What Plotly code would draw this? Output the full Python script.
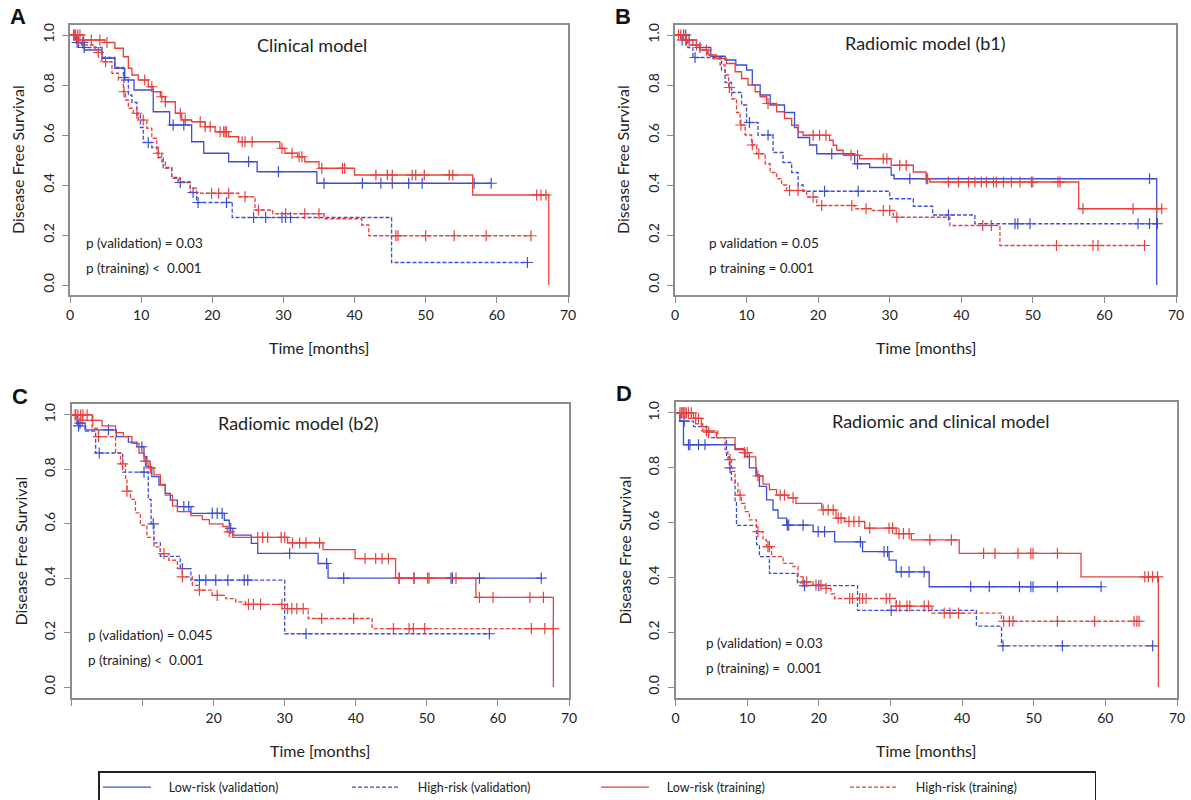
import numpy as np
import plotly.graph_objects as go

# ---------------- data ----------------
# Panel A : Clinical model
A_lowval_t = [0, 0.9, 2.0, 4.5, 6.3, 7.7, 9.0, 11.7, 14.0, 17.1, 18.8, 22.3, 26.3, 34.7]
A_lowval_s = [1.0, 0.97, 0.94, 0.907, 0.867, 0.82, 0.78, 0.693, 0.64, 0.573, 0.527, 0.493, 0.453, 0.407]
A_lowval_c = [1.2, 1.8, 14.5, 16.0, 25.1, 29.3, 35.7, 41.1, 43.7, 45.3, 47.6, 49.5, 56.8, 59.2]
A_highval_t = [0, 0.7, 1.6, 4.5, 6.3, 7.5, 8.2, 8.7, 9.4, 9.9, 10.3, 11.5, 12.4, 13.1, 14.3, 15.2, 16.9, 17.8, 22.8, 45.2]
A_highval_s = [1.0, 0.97, 0.95, 0.91, 0.87, 0.83, 0.76, 0.73, 0.68, 0.63, 0.57, 0.55, 0.51, 0.47, 0.43, 0.41, 0.37, 0.33, 0.27, 0.09]
A_highval_c = [1.0, 2.0, 7.6, 11.0, 15.5, 17.3, 18.0, 22.0, 25.8, 27.5, 29.8, 30.3, 31.0, 64.3]
A_lowtr_t = [0, 1.9, 4.9, 6.3, 7.5, 8.2, 8.7, 9.6, 11.0, 11.7, 12.7, 13.4, 14.8, 15.7, 17.1, 19.0, 20.4, 22.3,
             23.7, 29.5, 30.2, 32.0, 33.0, 35.0, 40.0, 56.6, 67.3]
A_lowtr_s = [1.0, 0.98, 0.97, 0.947, 0.913, 0.867, 0.84, 0.82, 0.793, 0.773, 0.753, 0.733, 0.687, 0.66, 0.653,
             0.633, 0.613, 0.593, 0.573, 0.547, 0.527, 0.513, 0.493, 0.467, 0.44, 0.36, 0.0]
A_lowtr_c = [0.5, 0.8, 1.1, 1.4, 1.9, 3.0, 4.2, 5.2, 10.5, 11.5, 12.9, 13.4, 15.5, 16.2, 18.3, 19.0, 19.7, 21.1,
             21.6, 21.8, 22.0, 24.2, 24.6, 25.6, 29.8, 31.2, 32.2, 32.6, 35.4, 38.3, 38.6, 43.0, 44.6, 45.3, 48.1,
             48.6, 49.8, 53.3, 53.8, 65.6, 66.2, 66.9]
A_hightr_t = [0, 0.8, 2.1, 3.5, 4.5, 5.9, 6.8, 7.5, 7.8, 8.2, 8.9, 9.6, 10.8, 11.5, 12.2, 12.9, 13.4, 14.3, 15.5,
              16.9, 17.8, 23.7, 26.0, 28.5, 35.7, 41.0, 42.0]
A_hightr_s = [1.0, 0.98, 0.96, 0.93, 0.893, 0.847, 0.82, 0.773, 0.74, 0.707, 0.687, 0.66, 0.627, 0.587, 0.527,
              0.493, 0.467, 0.427, 0.413, 0.387, 0.367, 0.353, 0.30, 0.285, 0.265, 0.24, 0.197]
A_hightr_c = [0.6, 1.2, 4.0, 5.0, 7.6, 9.4, 10.3, 12.4, 19.9, 20.9, 22.3, 24.6, 26.5, 30.3, 33.0, 35.0, 45.8, 46.1,
              50.0, 54.0, 58.5, 64.8]

# Panel B : Radiomic model (b1)
B_lowval_t = [0, 2.0, 3.0, 5.0, 7.0, 8.5, 10.0, 10.8, 11.9, 13.3, 15.3, 16.7, 17.2, 18.8, 19.8, 25.1, 27.2, 30.2, 30.6, 67.3]
B_lowval_s = [1.0, 0.98, 0.95, 0.915, 0.90, 0.88, 0.86, 0.80, 0.76, 0.72, 0.69, 0.63, 0.59, 0.56, 0.525, 0.485, 0.47, 0.44, 0.425, 0.0]
B_lowval_c = [1.2, 1.5, 3.5, 21.9, 25.5, 32.8, 35.1, 66.3]
B_highval_t = [0, 0.8, 1.8, 2.5, 6.5, 7.0, 7.9, 9.3, 10.0, 11.6, 13.7, 15.1, 16.3, 17.2, 17.9, 30.0, 33.3, 36.0, 41.9]
B_highval_s = [1.0, 0.98, 0.95, 0.91, 0.86, 0.81, 0.77, 0.72, 0.65, 0.60, 0.53, 0.49, 0.45, 0.40, 0.375, 0.345, 0.315, 0.28, 0.245]
B_highval_c = [1.0, 2.8, 10.4, 13.0, 20.9, 25.6, 38.2, 47.5, 47.9, 49.6, 64.7, 66.3, 67.4]
B_lowtr_t = [0, 1.5, 2.5, 3.5, 4.7, 5.8, 7.2, 8.4, 9.3, 10.2, 11.2, 11.9, 12.8, 14.2, 15.3, 16.3, 17.2, 17.9, 21.6,
             22.1, 22.6, 23.5, 25.8, 30.2, 33.3, 35.1, 35.6, 56.4]
B_lowtr_s = [1.0, 0.98, 0.96, 0.94, 0.92, 0.906, 0.886, 0.853, 0.826, 0.80, 0.773, 0.753, 0.726, 0.693, 0.666, 0.639,
             0.612, 0.599, 0.579, 0.559, 0.539, 0.519, 0.505, 0.479, 0.452, 0.425, 0.412, 0.305]
B_lowtr_c = [0.8, 1.2, 1.6, 2.0, 4.4, 13.0, 19.3, 20.2, 21.1, 24.6, 25.5, 29.1, 29.6, 31.4, 32.3, 35.3, 38.2, 39.6,
             41.0, 41.9, 42.8, 43.5, 44.5, 44.9, 45.9, 47.0, 48.2, 49.8, 50.0, 53.5, 53.8, 57.0, 64.0, 67.3, 68.0]
B_hightr_t = [0, 1.0, 2.0, 3.5, 4.5, 5.3, 6.3, 7.0, 7.5, 7.9, 8.6, 9.1, 9.8, 10.7, 11.4, 12.6, 13.3, 14.2, 14.9, 15.6,
              18.4, 19.8, 25.1, 27.4, 30.5, 38.4, 45.4]
B_hightr_s = [1.0, 0.98, 0.96, 0.94, 0.92, 0.905, 0.88, 0.84, 0.79, 0.745, 0.69, 0.64, 0.60, 0.56, 0.525, 0.485, 0.45,
              0.425, 0.40, 0.378, 0.352, 0.318, 0.305, 0.298, 0.271, 0.238, 0.158]
B_hightr_c = [0.5, 1.5, 3.0, 7.6, 9.2, 10.8, 11.7, 16.0, 17.2, 19.3, 20.5, 24.7, 26.7, 29.1, 30.0, 31.0, 43.0, 44.2,
              53.3, 58.4, 59.1, 65.6]

# Panel C : Radiomic model (b2)
C_lowval_t = [0, 0.8, 1.9, 6.3, 8.0, 9.2, 10.2, 10.6, 11.3, 12.3, 13.2, 13.9, 14.9, 16.8, 21.5, 22.2, 22.7, 25.3, 26.2, 34.7, 36.1]
C_lowval_s = [1.0, 0.97, 0.945, 0.92, 0.90, 0.883, 0.847, 0.81, 0.773, 0.742, 0.712, 0.687, 0.663, 0.638, 0.613,
              0.583, 0.558, 0.528, 0.491, 0.454, 0.40]
C_lowval_c = [1.2, 5.2, 9.9, 15.8, 16.5, 19.8, 20.5, 21.2, 22.4, 30.7, 35.9, 38.3, 46.1, 48.2, 53.4, 53.6, 57.4, 66.1]
C_highval_t = [0, 0.8, 2.0, 3.4, 7.2, 10.8, 11.2, 11.6, 12.5, 15.3, 16.8, 30.0]
C_highval_s = [1.0, 0.96, 0.94, 0.86, 0.79, 0.69, 0.60, 0.53, 0.48, 0.435, 0.393, 0.196]
C_highval_c = [1.0, 3.9, 10.2, 11.5, 15.6, 18.0, 18.9, 20.3, 22.0, 24.3, 24.8, 33.0, 58.8]
C_lowtr_t = [0, 2.9, 4.3, 6.2, 7.3, 8.5, 9.5, 10.2, 10.9, 11.6, 12.5, 13.2, 14.2, 14.9, 16.8, 18.4, 19.4, 21.3, 21.9,
             22.7, 30.4, 35.4, 39.9, 45.6, 56.9, 67.8]
C_lowtr_s = [1.0, 0.98, 0.96, 0.935, 0.92, 0.895, 0.86, 0.83, 0.805, 0.78, 0.745, 0.705, 0.665, 0.645, 0.63, 0.615,
             0.60, 0.59, 0.57, 0.55, 0.53, 0.505, 0.472, 0.40, 0.33, 0.0]
C_lowtr_c = [0.5, 0.9, 1.3, 1.6, 2.2, 3.0, 10.4, 11.1, 22.2, 26.2, 26.9, 27.6, 29.5, 30.0, 31.1, 32.1, 33.0, 34.9,
             41.3, 42.8, 43.7, 44.6, 46.1, 48.2, 50.1, 50.3, 54.1, 57.4, 59.3, 64.5, 66.4]
C_hightr_t = [0, 1.2, 2.9, 3.8, 6.2, 6.9, 7.6, 7.8, 8.3, 9.0, 9.7, 10.6, 11.6, 12.5, 13.7, 14.9, 15.6, 17.0, 18.0,
              19.8, 21.7, 23.1, 24.5, 30.0, 33.3, 42.3]
C_hightr_s = [1.0, 0.98, 0.95, 0.92, 0.86, 0.82, 0.76, 0.72, 0.69, 0.64, 0.595, 0.55, 0.515, 0.49, 0.466, 0.436,
              0.405, 0.374, 0.356, 0.337, 0.325, 0.313, 0.304, 0.288, 0.252, 0.215]
C_hightr_c = [0.6, 1.5, 3.8, 7.2, 7.8, 13.0, 15.6, 18.0, 20.5, 24.9, 25.6, 26.6, 29.6, 30.4, 31.0, 31.7, 32.6, 35.2,
              39.7, 45.3, 47.5, 48.1, 49.7, 64.7, 66.6, 67.8]

# Panel D : Radiomic and clinical model
D_lowval_t = [0, 0.6, 1.1, 8.3, 9.7, 10.3, 11.3, 11.7, 12.7, 13.6, 14.3, 15.5, 19.2, 22.2, 26.1, 29.8, 30.8, 35.4]
D_lowval_s = [1.0, 0.97, 0.884, 0.866, 0.841, 0.80, 0.774, 0.732, 0.683, 0.646, 0.616, 0.591, 0.567, 0.53, 0.494,
              0.463, 0.42, 0.366]
D_lowval_c = [1.8, 2.0, 3.2, 4.1, 15.6, 15.8, 17.8, 19.9, 20.8, 25.8, 29.1, 29.6, 31.5, 32.6, 34.7, 41.2, 43.8,
              48.0, 49.6, 49.9, 53.3, 59.4]
D_highval_t = [0, 0.6, 2.5, 4.6, 7.1, 7.5, 7.8, 8.3, 8.5, 11.3, 11.7, 13.1, 17.0, 18.0, 25.4, 42.0, 45.5]
D_highval_s = [1.0, 0.97, 0.95, 0.91, 0.84, 0.80, 0.755, 0.68, 0.59, 0.52, 0.476, 0.415, 0.38, 0.37, 0.28, 0.222, 0.15]
D_highval_c = [1.2, 7.6, 18.0, 20.0, 30.1, 45.7, 54.0, 66.6]
D_lowtr_t = [0, 2.5, 3.6, 4.3, 5.7, 8.3, 9.6, 10.3, 11.2, 12.2, 13.1, 14.1, 15.7, 16.8, 20.4, 22.4, 23.6, 26.4,
             30.8, 32.9, 39.6, 56.6, 67.4]
D_lowtr_s = [1.0, 0.98, 0.95, 0.93, 0.91, 0.87, 0.855, 0.84, 0.77, 0.74, 0.72, 0.70, 0.69, 0.67, 0.646, 0.616,
             0.604, 0.58, 0.56, 0.537, 0.488, 0.402, 0.0]
D_lowtr_c = [0.6, 0.9, 1.1, 1.3, 1.5, 1.8, 2.2, 2.8, 3.2, 4.6, 9.6, 10.0, 11.5, 14.6, 15.2, 16.4, 20.6, 21.3, 22.0,
             22.7, 23.1, 24.2, 24.9, 25.6, 27.1, 29.8, 30.3, 31.2, 31.8, 32.6, 35.5, 38.5, 43.0, 44.6, 47.8, 49.6,
             49.9, 53.3, 65.5, 66.0, 66.6, 67.3]
D_hightr_t = [0, 1.5, 2.8, 3.8, 5.9, 6.9, 7.3, 7.8, 8.3, 8.7, 9.2, 9.7, 10.3, 11.3, 12.2, 12.7, 13.4, 15.0, 16.4,
              17.1, 17.8, 19.2, 21.0, 21.7, 22.2, 30.8, 35.8, 45.5]
D_hightr_s = [1.0, 0.98, 0.96, 0.935, 0.91, 0.866, 0.83, 0.787, 0.744, 0.70, 0.67, 0.64, 0.61, 0.567, 0.537, 0.512,
              0.476, 0.451, 0.439, 0.402, 0.384, 0.372, 0.36, 0.34, 0.323, 0.295, 0.27, 0.24]
D_hightr_c = [0.8, 1.1, 4.3, 7.6, 9.0, 11.5, 12.9, 13.1, 17.8, 18.3, 19.6, 20.3, 21.0, 24.3, 24.7, 25.7, 26.1, 26.6,
              29.4, 29.9, 30.8, 31.3, 32.3, 32.7, 34.7, 35.3, 37.5, 38.3, 39.5, 45.8, 46.6, 47.1, 53.3, 58.5, 64.0,
              64.4, 64.7]

series_names = ["Low-risk (validation)", "High-risk (validation)", "Low-risk (training)", "High-risk (training)"]
panel_titles = ["Clinical model", "Radiomic model (b1)", "Radiomic model (b2)", "Radiomic and clinical model"]
panel_letters = ["A", "B", "C", "D"]
p_texts = [["p (validation) = 0.03", "p (training) <  0.001"],
           ["p validation = 0.05", "p training = 0.001"],
           ["p (validation) = 0.045", "p (training) <  0.001"],
           ["p (validation) = 0.03", "p (training) =  0.001"]]
x_ticks = [0, 10, 20, 30, 40, 50, 60, 70]
x_ticktext_full = ["0", "10", "20", "30", "40", "50", "60", "70"]
x_ticktext_c = ["", "", "20", "30", "40", "50", "60", "70"]
y_ticks = [0.0, 0.2, 0.4, 0.6, 0.8, 1.0]
y_ticktext = ["0.0", "0.2", "0.4", "0.6", "0.8", "1.0"]

panels = [
    [(A_lowval_t, A_lowval_s, A_lowval_c), (A_highval_t, A_highval_s, A_highval_c),
     (A_lowtr_t, A_lowtr_s, A_lowtr_c), (A_hightr_t, A_hightr_s, A_hightr_c)],
    [(B_lowval_t, B_lowval_s, B_lowval_c), (B_highval_t, B_highval_s, B_highval_c),
     (B_lowtr_t, B_lowtr_s, B_lowtr_c), (B_hightr_t, B_hightr_s, B_hightr_c)],
    [(C_lowval_t, C_lowval_s, C_lowval_c), (C_highval_t, C_highval_s, C_highval_c),
     (C_lowtr_t, C_lowtr_s, C_lowtr_c), (C_hightr_t, C_hightr_s, C_hightr_c)],
    [(D_lowval_t, D_lowval_s, D_lowval_c), (D_highval_t, D_highval_s, D_highval_c),
     (D_lowtr_t, D_lowtr_s, D_lowtr_c), (D_hightr_t, D_hightr_s, D_hightr_c)],
]

# ---------------- style ----------------
BLUE = "#3c4fd3"
RED = "#e8413e"
styles = [(BLUE, "solid"), (BLUE, "4px,2px"), (RED, "solid"), (RED, "4px,2px")]
FONT = "Lato"
W, H = 1191, 800
FRAME = "#8c8c8c"
PAD = "\u00a0" * 4

# plot-area pixel boxes (left, right, top, bottom)
boxes = [(70, 568, 25, 295), (675, 1176, 25, 295), (71.5, 569, 404, 698), (675.6, 1177, 402, 698)]

fig = go.Figure()

for i, (panel, box) in enumerate(zip(panels, boxes)):
    ax = "" if i == 0 else str(i + 1)
    xref, yref = "x" + ax, "y" + ax
    for j, ((t, s, c), (col, dash)) in enumerate(zip(panel, styles)):
        t = np.asarray(t, float)
        s = np.asarray(s, float)
        c = np.asarray(c, float)
        end = max(t[-1], c.max())
        xs = np.append(t, end)
        ys = np.append(s, s[-1])
        fig.add_trace(go.Scatter(
            x=xs, y=ys, mode="lines", line=dict(color=col, width=1.3, dash=dash, shape="hv"),
            name=PAD + series_names[j], legendgroup=series_names[j], showlegend=(i == 0),
            xaxis=xref, yaxis=yref, hoverinfo="skip"))
        idx = np.searchsorted(t, c, side="right") - 1
        fig.add_trace(go.Scatter(
            x=c, y=s[idx], mode="markers",
            marker=dict(symbol="cross-thin", size=8, line=dict(color=col, width=1.2)),
            showlegend=False, legendgroup=series_names[j], xaxis=xref, yaxis=yref, hoverinfo="skip"))

layout = dict(
    width=W, height=H, margin=dict(l=0, r=0, t=0, b=0, autoexpand=False),
    paper_bgcolor="white", plot_bgcolor="white",
    font=dict(family=FONT, color="#222222", size=14),
    legend=dict(orientation="h", x=98 / W, xanchor="left", y=1 - 771 / H, yanchor="top",
                bordercolor="#222222", borderwidth=1.5, font=dict(size=12.5, family=FONT),
                entrywidth=186, entrywidthmode="pixels", itemwidth=48, tracegroupgap=0),
)
annotations = []
for i, box in enumerate(boxes):
    l, r, t, b = box
    ax = "" if i == 0 else str(i + 1)
    layout["xaxis" + ax] = dict(
        domain=[l / W, r / W], range=[0, 70], anchor="y" + ax,
        tickvals=x_ticks, ticktext=(x_ticktext_c if i == 2 else x_ticktext_full),
        showgrid=False, zeroline=False, showline=True, mirror=True, linecolor=FRAME, linewidth=1.5,
        ticks="outside", ticklen=6, tickcolor=FRAME, tickwidth=1.2, tickfont=dict(size=14))
    layout["yaxis" + ax] = dict(
        domain=[1 - b / H, 1 - t / H], range=[-0.04, 1.04], anchor="x" + ax,
        tickvals=y_ticks, ticktext=y_ticktext, tickangle=-90, ticklabelstandoff=3,
        showgrid=False, zeroline=False, showline=True, mirror=True, linecolor=FRAME, linewidth=1.5,
        ticks="outside", ticklen=6, tickcolor=FRAME, tickwidth=1.2, tickfont=dict(size=14))
    cx = (l + r) / 2
    y1 = t + (1.04 - 1.0) / 1.08 * (b - t)
    y0 = t + (1.04 - 0.0) / 1.08 * (b - t)
    # axis titles
    annotations.append(dict(x=cx / W, y=1 - (b + 52) / H, xref="paper", yref="paper", text="Time [months]",
                            xanchor="center", yanchor="middle", showarrow=False,
                            font=dict(size=16, family=FONT, color="#222")))
    annotations.append(dict(x=(l - 52) / W, y=1 - ((y0 + y1) / 2) / H, xref="paper", yref="paper",
                            text="Disease Free Survival", textangle=-90, showarrow=False,
                            xanchor="center", yanchor="middle",
                            font=dict(size=16, family=FONT, color="#222")))
    # panel letter
    annotations.append(dict(x=(l - 52) / W, y=1 - (t - 8) / H, xref="paper", yref="paper",
                            text="<b>" + panel_letters[i] + "</b>", showarrow=False,
                            xanchor="center", yanchor="middle",
                            font=dict(size=22, family="Liberation Sans", color="#111")))

# titles and p-values (data coordinates)
title_pos = [(34, 0.96), (35, 0.97), (32, 0.97), (37, 0.97)]
p_pos = [(2.0, 0.17, 0.07), (4.5, 0.17, 0.07), (2.0, 0.19, 0.10), (3.9, 0.16, 0.07)]
for i in range(4):
    ax = "" if i == 0 else str(i + 1)
    tx, ty = title_pos[i]
    annotations.append(dict(x=tx, y=ty, xref="x" + ax, yref="y" + ax, text=panel_titles[i], showarrow=False,
                            font=dict(size=18, family=FONT, color="#222")))
    px, py1, py2 = p_pos[i]
    annotations.append(dict(x=px, y=py1, xref="x" + ax, yref="y" + ax, text=p_texts[i][0], showarrow=False,
                            xanchor="left", font=dict(size=13.5, family=FONT, color="#222")))
    annotations.append(dict(x=px, y=py2, xref="x" + ax, yref="y" + ax, text=p_texts[i][1], showarrow=False,
                            xanchor="left", font=dict(size=13.5, family=FONT, color="#222")))

layout["annotations"] = annotations
fig.update_layout(**layout)
fig.write_html("out.html")
